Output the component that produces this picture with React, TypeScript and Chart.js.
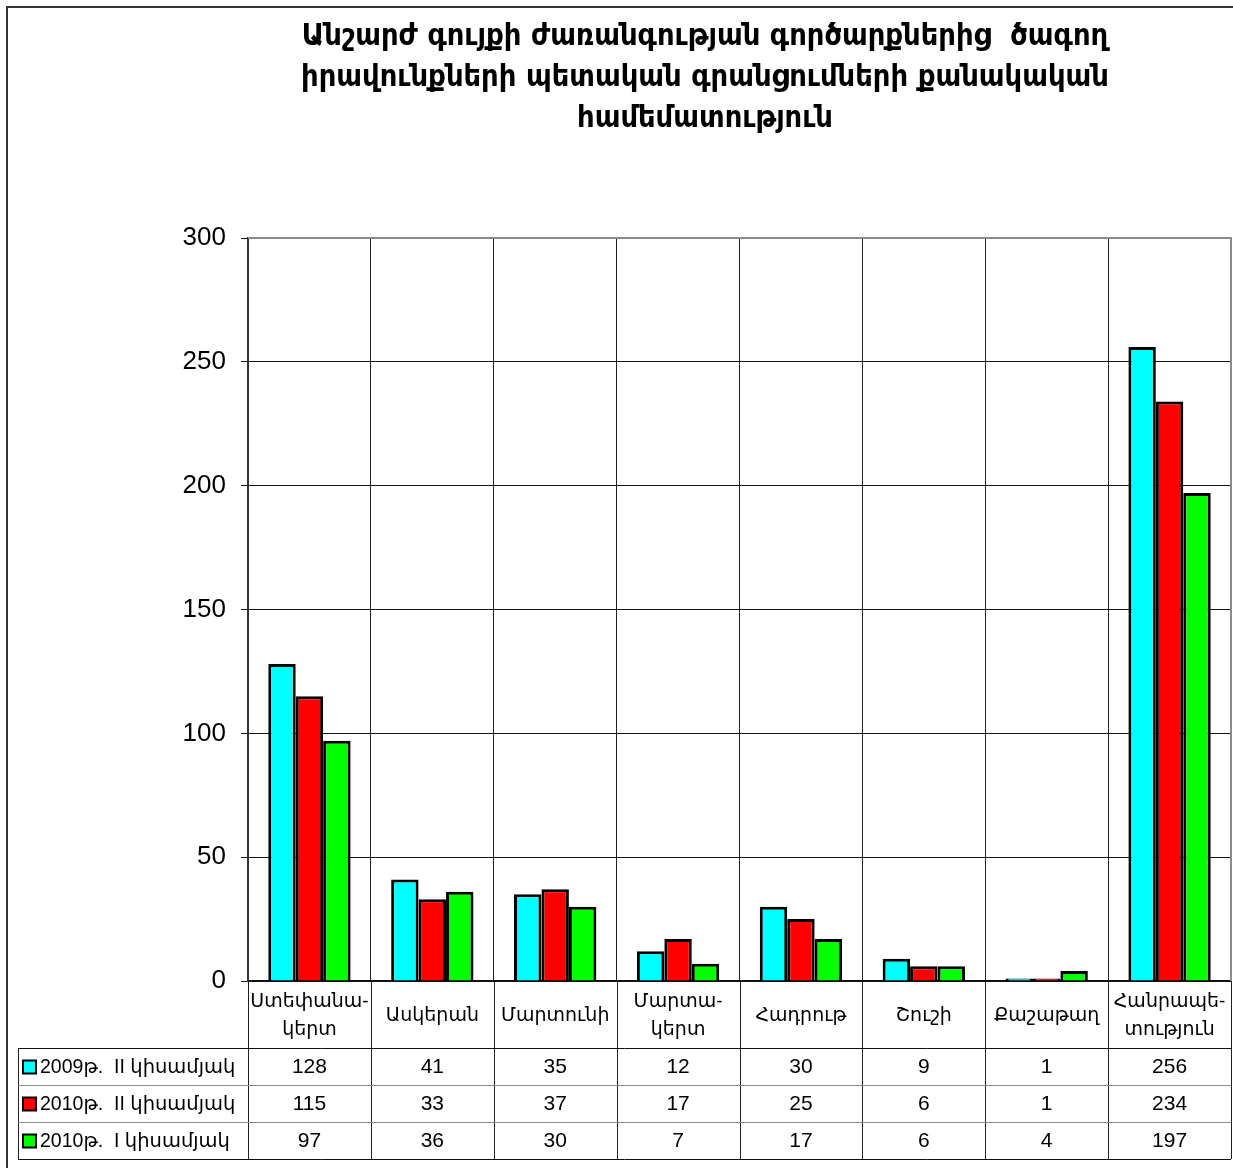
import React, { useEffect, useRef } from "react";
import { Chart, registerables } from "chart.js";

Chart.register(...registerables);

const titleLines = [
  "Անշարժ գույքի ժառանգության գործարքներից  ծագող",
  "իրավունքների պետական գրանցումների քանակական",
  "համեմատություն",
];

const categories: string[][] = [
  ["Ստեփանա-", "կերտ"],
  ["Ասկերան"],
  ["Մարտունի"],
  ["Մարտա-", "կերտ"],
  ["Հադրութ"],
  ["Շուշի"],
  ["Քաշաթաղ"],
  ["Հանրապե-", "տություն"],
];

const seriesNames = [
  "2009թ.  II կիսամյակ",
  "2010թ.  II կիսամյակ",
  "2010թ.  I կիսամյակ",
];

const values2009H2 = [128, 41, 35, 12, 30, 9, 1, 256];
const values2010H2 = [115, 33, 37, 17, 25, 6, 1, 234];
const values2010H1 = [97, 36, 30, 7, 17, 6, 4, 197];

const seriesColors = ["#00FFFF", "#FF0000", "#00FF00"];

const yMin = 0;
const yMax = 300;
const yStep = 50;

const FONT = "'Liberation Sans', Arial, 'DejaVu Sans', sans-serif";
const TITLE_FONT = "'DejaVu Sans Condensed', 'DejaVu Sans', sans-serif";

const allSeries = [values2009H2, values2010H2, values2010H1];

const framePlugin = {
  id: "frameAndTable",
  afterDraw(chart: any) {
    const ctx = chart.ctx as CanvasRenderingContext2D;
    const { left, right, top, bottom } = chart.chartArea;
    const W = chart.width;
    const H = chart.height;
    ctx.save();

    // outer frame (left + top)
    ctx.strokeStyle = "#333";
    ctx.lineWidth = 2;
    ctx.beginPath();
    ctx.moveTo(7, H);
    ctx.lineTo(7, 7);
    ctx.lineTo(W, 7);
    ctx.stroke();

    // plot area gray top/right border
    ctx.strokeStyle = "#8c8c8c";
    ctx.lineWidth = 2;
    ctx.beginPath();
    ctx.moveTo(left, top);
    ctx.lineTo(right, top);
    ctx.lineTo(right, bottom);
    ctx.stroke();

    // data table
    const n = categories.length;
    const cw = (right - left) / n;
    const headerH = 67;
    const rowH = 37;
    const tTop = bottom + headerH;
    const tLeft = 18;
    const tBottom = tTop + rowH * allSeries.length;

    ctx.strokeStyle = "#222";
    ctx.lineWidth = 1;
    for (let i = 0; i <= n; i++) {
      const x = Math.round(left + i * cw) + 0.5;
      ctx.beginPath();
      ctx.moveTo(x, bottom);
      ctx.lineTo(x, tBottom);
      ctx.stroke();
    }
    ctx.beginPath();
    ctx.moveTo(tLeft + 0.5, tTop);
    ctx.lineTo(tLeft + 0.5, tBottom);
    ctx.stroke();

    for (let r = 0; r <= allSeries.length; r++) {
      const y = Math.round(tTop + r * rowH) + 0.5;
      ctx.strokeStyle = r === 0 || r === allSeries.length ? "#111" : "#8a8a8a";
      ctx.beginPath();
      ctx.moveTo(tLeft, y);
      ctx.lineTo(right, y);
      ctx.stroke();
    }

    ctx.textBaseline = "middle";
    for (let r = 0; r < allSeries.length; r++) {
      const cy = tTop + r * rowH + rowH / 2 + 1;
      ctx.fillStyle = seriesColors[r];
      ctx.fillRect(23, cy - 7, 13, 13);
      ctx.strokeStyle = "#000";
      ctx.lineWidth = 2;
      ctx.strokeRect(23, cy - 7, 13, 13);
      ctx.fillStyle = "#000";
      ctx.textAlign = "left";
      ctx.font = `19.5px ${FONT}`;
      ctx.fillText(seriesNames[r], 40, cy);
      ctx.textAlign = "center";
      ctx.font = `21px ${FONT}`;
      const vals = allSeries[r];
      for (let i = 0; i < n; i++) {
        ctx.fillText(String(vals[i]), left + i * cw + cw / 2, cy);
      }
    }
    ctx.restore();
  },
};

export default function App() {
  const ref = useRef<HTMLCanvasElement | null>(null);

  useEffect(() => {
    if (!ref.current) return;
    const chart = new Chart(ref.current, {
      type: "bar",
      data: {
        labels: categories,
        datasets: allSeries.map((vals, i) => ({
          label: seriesNames[i],
          data: vals,
          backgroundColor: seriesColors[i],
          borderColor: "#000",
          borderWidth: 3,
          borderSkipped: "bottom",
          categoryPercentage: 0.67,
          barPercentage: 1.0,
        })),
      },
      options: {
        responsive: false,
        animation: false,
        devicePixelRatio: 1,
        layout: { padding: { left: 179, right: 2, top: 0, bottom: 0 } },
        plugins: {
          legend: { display: false },
          tooltip: { enabled: false },
          title: {
            display: true,
            text: titleLines,
            color: "#000",
            font: { family: TITLE_FONT, size: 30.5, weight: "bold", lineHeight: 41 / 30.5 },
            padding: { top: 17, bottom: 98 },
          },
        },
        scales: {
          x: {
            grid: { offset: true, color: "#222", lineWidth: 1, drawTicks: false },
            border: { color: "#111", width: 2 },
            ticks: {
              color: "#000",
              font: { family: FONT, size: 19, lineHeight: 28 / 19 },
              padding: 21,
              crossAlign: "center",
              maxRotation: 0,
              minRotation: 0,
              autoSkip: false,
            },
            afterFit: (s: any) => {
              s.height = 187;
              s.paddingLeft = 0;
              s.paddingRight = 0;
            },
          },
          y: {
            min: yMin,
            max: yMax,
            ticks: {
              stepSize: yStep,
              color: "#000",
              font: { family: FONT, size: 26 },
              padding: 15,
            },
            grid: { color: "#111", lineWidth: 1, tickLength: 7 },
            border: { color: "#333", width: 2 },
            afterFit: (s: any) => {
              s.width = 69;
            },
          },
        },
      },
      plugins: [framePlugin],
    });
    return () => chart.destroy();
  }, []);

  return (
    <div style={{ position: "absolute", left: 0, top: 0, width: 1233, height: 1168, background: "#fff" }}>
      <canvas ref={ref} width={1233} height={1168} style={{ width: 1233, height: 1168, display: "block" }} />
    </div>
  );
}
